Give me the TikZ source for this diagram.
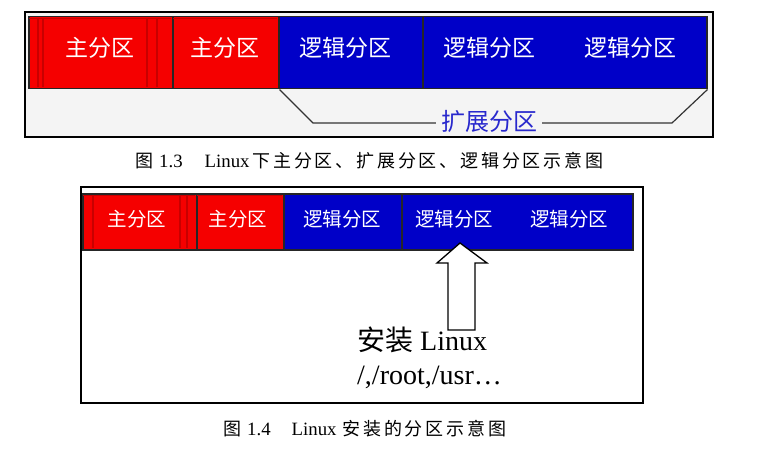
\documentclass[tikz,border=0pt]{standalone}
\usepackage{fontspec}
\setmainfont{Liberation Serif}
\newfontfamily\cjk{Noto Sans CJK SC}
\newfontfamily\cjkcap[LetterSpace=15.5]{Noto Sans CJK SC}
\definecolor{pred}{RGB}{245,0,0}
\definecolor{pdred}{RGB}{200,0,0}
\definecolor{pblue}{RGB}{0,0,200}
\definecolor{pbg}{RGB}{244,244,244}
\definecolor{extblue}{RGB}{40,40,205}
\tikzset{
  frame/.style={draw=black, line width=2pt, anchor=north west, inner sep=0pt},
  part/.style={draw=black!85, line width=1.5pt, anchor=north west, inner sep=0pt, text=white},
  redpart/.style={part, fill=pred},
  bluepart/.style={part, fill=pblue},
  bigfont/.style={font=\cjk\fontsize{23}{23}\selectfont},
  smallfont/.style={font=\cjk\fontsize{19.5}{20}\selectfont},
  lbl/.style={text=white, inner sep=0pt},
  stripe/.style={draw=pdred, line width=1.8pt},
  bracket/.style={draw=black!80, line width=1.2pt},
  caption/.style={anchor=west, inner sep=0pt, font=\fontsize{18.8}{22}\selectfont},
  bigarrow/.style={draw=black, line width=1.3pt, fill=white, line join=miter}
}
\newcommand{\capcjk}[1]{{\cjkcap\fontsize{18}{22}\selectfont #1}}
\begin{document}
\begin{tikzpicture}[x=1pt,y=-1pt]
\useasboundingbox (0,0) rectangle (777,460);
\fill[white] (0,0) rectangle (777,460);

% ---------- Figure 1.3 ----------
\node[frame, fill=pbg, minimum width=688pt, minimum height=125pt] (f1) at (24,11) {};
\node[redpart, minimum width=144pt, minimum height=72pt] (a1) at (28,16) {};
\draw[stripe] (29,18.5) -- (171,18.5);
\draw[stripe] (38,19) -- (38,87);
\draw[stripe] (43,19) -- (43,87);
\draw[stripe] (147,19) -- (147,87);
\draw[stripe] (157,19) -- (157,87);
\node[redpart, minimum width=106pt, minimum height=72pt] (a2) at (172,16) {};
\draw[stripe] (173,18.5) -- (277,18.5);
\node[bluepart, minimum width=144pt, minimum height=72pt] (a3) at (278,16) {};
\node[bluepart, minimum width=284pt, minimum height=72pt] (a4) at (422,16) {};
\node[lbl, bigfont] (t1) at (100,48) {主分区};
\node[lbl, bigfont] (t2) at (225,48) {主分区};
\node[lbl, bigfont] (t3) at (345,48) {逻辑分区};
\node[lbl, bigfont] (t4) at (489,48) {逻辑分区};
\node[lbl, bigfont] (t5) at (630,48) {逻辑分区};
\coordinate (b2) at (313,123);
\coordinate (b5) at (672,123);
\node[font=\cjk\fontsize{24}{24}\selectfont, text=extblue, inner xsep=5pt, inner ysep=0pt] (ext) at (489,121) {扩展分区};
\draw[bracket] (a2.south east) -- (b2) -- (b2 -| ext.west);
\draw[bracket] (b5 -| ext.east) -- (b5) -- (a4.south east);

\node[caption] (cap1) at (135,161) {\capcjk{图}\hspace{6pt}1.3\hspace{22pt}Linux\hspace{3pt}\capcjk{下主分区、扩展分区、逻辑分区示意图}};

% ---------- Figure 1.4 ----------
\node[frame, fill=white, minimum width=562pt, minimum height=216pt] (f2) at (80,186) {};
\node[redpart, minimum width=114pt, minimum height=56pt] (c1) at (82,193) {};
\draw[stripe] (83,195.5) -- (195,195.5);
\draw[stripe] (93,196) -- (93,248);
\draw[stripe] (180,196) -- (180,248);
\draw[stripe] (187,196) -- (187,248);
\node[redpart, minimum width=87pt, minimum height=56pt] (c2) at (196,193) {};
\draw[stripe] (197,195.5) -- (282,195.5);
\node[bluepart, minimum width=118pt, minimum height=56pt] (c3) at (283,193) {};
\node[bluepart, minimum width=231pt, minimum height=56pt] (c4) at (401,193) {};
\node[lbl, smallfont] (s1) at (137,219) {主分区};
\node[lbl, smallfont] (s2) at (238,219) {主分区};
\node[lbl, smallfont] (s3) at (342,219) {逻辑分区};
\node[lbl, smallfont] (s4) at (454,219) {逻辑分区};
\node[lbl, smallfont] (s5) at (569,219) {逻辑分区};

\coordinate (tip) at (460,243);
\draw[bigarrow] (tip) -- ++(27,20) -- ++(-12,0) -- ++(0,67) -- ++(-27,0) -- ++(0,-67) -- ++(-11,0) -- cycle;

\node[anchor=west, inner sep=0pt, font=\fontsize{28}{30}\selectfont] (inst) at (357,340) {{\cjk 安装} Linux};
\node[anchor=west, inner sep=0pt, font=\fontsize{28}{30}\selectfont] (dirs) at (357,377) {/,/root,/usr…};

\node[caption] (cap2) at (223,429) {\capcjk{图}\hspace{6pt}1.4\hspace{21pt}Linux\hspace{6pt}\capcjk{安装的分区示意图}};
\end{tikzpicture}
\end{document}
